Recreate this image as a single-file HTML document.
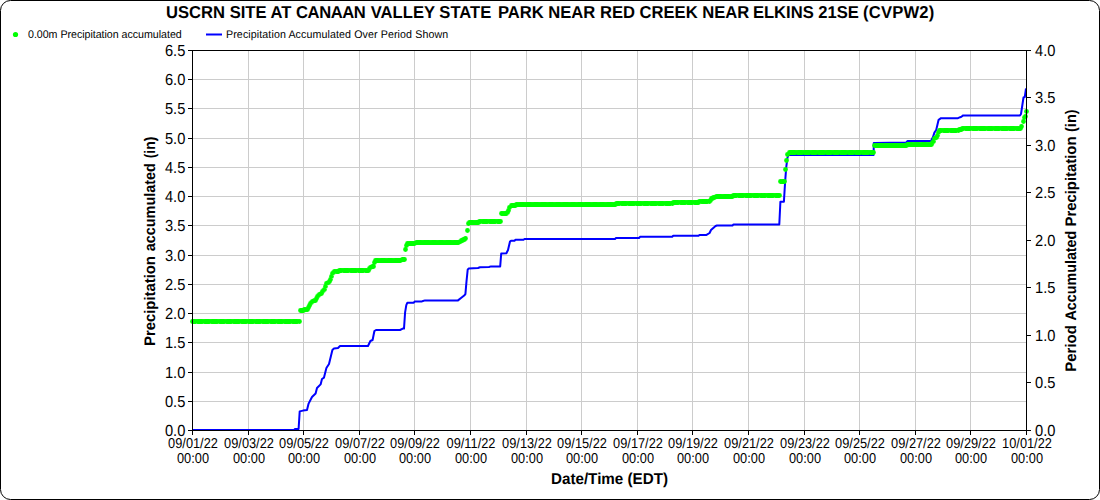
<!DOCTYPE html>
<html><head><meta charset="utf-8"><title>USCRN SITE AT CANAAN VALLEY STATE PARK</title>
<style>
html,body{margin:0;padding:0;background:#fff;}
body{width:1100px;height:500px;overflow:hidden;}
svg{display:block;text-rendering:geometricPrecision;font-family:"Liberation Sans",sans-serif;fill:#000;}
</style></head><body>
<svg width="1100" height="500" viewBox="0 0 1100 500">
<rect x="0" y="0" width="1100" height="500" fill="#fff"/>
<rect x="0.5" y="0.5" width="1099" height="499" rx="10" ry="10" fill="#fff" stroke="#000" stroke-width="1"/>
<path d="M248.5 51V430M303.5 51V430M359.5 51V430M414.5 51V430M470.5 51V430M526.5 51V430M581.5 51V430M637.5 51V430M692.5 51V430M748.5 51V430M804.5 51V430M859.5 51V430M915.5 51V430M970.5 51V430M193 401.5H1026M193 372.5H1026M193 342.5H1026M193 313.5H1026M193 284.5H1026M193 255.5H1026M193 225.5H1026M193 196.5H1026M193 167.5H1026M193 138.5H1026M193 108.5H1026M193 79.5H1026" stroke="#cccccc" stroke-width="1" fill="none" shape-rendering="crispEdges"/>
<polyline points="192,430 294,430 295,429 298.6,429 299.7,411.4 303,410.6 307,410 308.6,403.6 312,397 315.6,393.6 317,388 320.6,384.4 322,379 324,377.6 326.4,368 329,364 332.4,350 334,348.4 338,348 340,346 368,346 370.4,341 372.6,340 374.4,331 376,330 400,330 402.8,328.6 404,328.6 405.1,312.3 406.3,305.1 407.4,302.7 413.8,302.7 414.8,301.4 422,301.4 423,301 425,300.4 458,300.4 461,298 464.2,295.5 465.4,294.1 466.5,281.4 467.7,269.7 468.8,268.4 478,268 480,267.2 489,267 491,266.4 500.2,266.4 501.2,253.6 506.4,253.2 508,250 510,241.6 511,240.8 514.5,240.8 515.5,239.8 523.5,239.8 524.5,239 615,239 616,238 639,238 640,236.8 672.2,236.8 673.2,235.8 698.5,235.8 699.5,234.9 706.5,234.9 709.6,233 711,230 715.6,226 717,225.5 732.5,225.5 733.5,224.4 779.3,224.4 780.4,201.8 783.9,201.8 785.1,182.1 786.2,167.6 787.4,157.9 788.5,155 873.6,155 873.8,143 906,142.6 907.6,141 931,141 933,137 934.4,132.6 936.2,130 938.6,119.8 941,118.2 958,118.2 960.2,117.2 961.4,116.8 963.2,115.4 1020,115.4 1021,114 1023.5,97.5 1024.8,97 1026,88.5" fill="none" stroke="#0000ff" stroke-width="2" stroke-linejoin="round"/>
<path d="M192.5 321.5h0M193.5 321.5h0M194.5 321.5h0M195.5 321.5h0M197.5 321.5h0M198.5 321.5h0M199.5 321.5h0M200.5 321.5h0M201.5 321.5h0M202.5 321.5h0M204.5 321.5h0M205.5 321.5h0M206.5 321.5h0M207.5 321.5h0M208.5 321.5h0M209.5 321.5h0M211.5 321.5h0M212.5 321.5h0M213.5 321.5h0M214.5 321.5h0M215.5 321.5h0M216.5 321.5h0M217.5 321.5h0M219.5 321.5h0M220.5 321.5h0M221.5 321.5h0M222.5 321.5h0M223.5 321.5h0M224.5 321.5h0M226.5 321.5h0M227.5 321.5h0M228.5 321.5h0M229.5 321.5h0M230.5 321.5h0M231.5 321.5h0M233.5 321.5h0M234.5 321.5h0M235.5 321.5h0M236.5 321.5h0M237.5 321.5h0M238.5 321.5h0M239.5 321.5h0M241.5 321.5h0M242.5 321.5h0M243.5 321.5h0M244.5 321.5h0M245.5 321.5h0M246.5 321.5h0M248.5 321.5h0M249.5 321.5h0M250.5 321.5h0M251.5 321.5h0M252.5 321.5h0M253.5 321.5h0M255.5 321.5h0M256.5 321.5h0M257.5 321.5h0M258.5 321.5h0M259.5 321.5h0M260.5 321.5h0M262.5 321.5h0M263.5 321.5h0M264.5 321.5h0M265.5 321.5h0M266.5 321.5h0M267.5 321.5h0M268.5 321.5h0M270.5 321.5h0M271.5 321.5h0M272.5 321.5h0M273.5 321.5h0M274.5 321.5h0M275.5 321.5h0M277.5 321.5h0M278.5 321.5h0M279.5 321.5h0M280.5 321.5h0M281.5 321.5h0M282.5 321.5h0M284.5 321.5h0M285.5 321.5h0M286.5 321.5h0M287.5 321.5h0M288.5 321.5h0M289.5 321.5h0M290.5 321.5h0M292.5 321.5h0M293.5 321.5h0M294.5 321.5h0M295.5 321.5h0M296.5 321.5h0M297.5 321.5h0M299.5 321.5h0M300.5 310.5h0M301.5 310.5h0M302.5 310.5h0M303.5 310.5h0M304.5 309.5h0M306.5 309.5h0M307.5 309.5h0M308.5 307.5h0M309.5 305.5h0M310.5 303.5h0M311.5 302.5h0M312.5 301.5h0M314.5 300.5h0M315.5 300.5h0M316.5 298.5h0M317.5 296.5h0M318.5 295.5h0M319.5 294.5h0M321.5 293.5h0M322.5 291.5h0M323.5 290.5h0M324.5 289.5h0M325.5 286.5h0M326.5 283.5h0M328.5 282.5h0M329.5 281.5h0M330.5 279.5h0M331.5 276.5h0M332.5 273.5h0M333.5 272.5h0M334.5 271.5h0M336.5 271.5h0M337.5 271.5h0M338.5 271.5h0M339.5 270.5h0M340.5 270.5h0M341.5 270.5h0M343.5 270.5h0M344.5 270.5h0M345.5 270.5h0M346.5 270.5h0M347.5 270.5h0M348.5 270.5h0M350.5 270.5h0M351.5 270.5h0M352.5 270.5h0M353.5 270.5h0M354.5 270.5h0M355.5 270.5h0M356.5 270.5h0M358.5 270.5h0M359.5 270.5h0M360.5 270.5h0M361.5 270.5h0M362.5 270.5h0M363.5 270.5h0M365.5 270.5h0M366.5 270.5h0M367.5 270.5h0M368.5 270.5h0M369.5 268.5h0M370.5 267.5h0M372.5 266.5h0M373.5 266.5h0M374.5 262.5h0M375.5 260.5h0M376.5 260.5h0M377.5 260.5h0M378.5 260.5h0M380.5 260.5h0M381.5 260.5h0M382.5 260.5h0M383.5 260.5h0M384.5 260.5h0M385.5 260.5h0M387.5 260.5h0M388.5 260.5h0M389.5 260.5h0M390.5 260.5h0M391.5 260.5h0M392.5 260.5h0M394.5 260.5h0M395.5 260.5h0M396.5 260.5h0M397.5 260.5h0M398.5 260.5h0M399.5 260.5h0M400.5 260.5h0M402.5 259.5h0M403.5 259.5h0M404.5 259.5h0M405.5 249.5h0M406.5 245.5h0M407.5 243.5h0M409.5 243.5h0M410.5 243.5h0M411.5 243.5h0M412.5 243.5h0M413.5 243.5h0M414.5 243.5h0M416.5 242.5h0M417.5 242.5h0M418.5 242.5h0M419.5 242.5h0M420.5 242.5h0M421.5 242.5h0M423.5 242.5h0M424.5 242.5h0M425.5 242.5h0M426.5 242.5h0M427.5 242.5h0M428.5 242.5h0M429.5 242.5h0M431.5 242.5h0M432.5 242.5h0M433.5 242.5h0M434.5 242.5h0M435.5 242.5h0M436.5 242.5h0M438.5 242.5h0M439.5 242.5h0M440.5 242.5h0M441.5 242.5h0M442.5 242.5h0M443.5 242.5h0M445.5 242.5h0M446.5 242.5h0M447.5 242.5h0M448.5 242.5h0M449.5 242.5h0M450.5 242.5h0M451.5 242.5h0M453.5 242.5h0M454.5 242.5h0M455.5 242.5h0M456.5 242.5h0M457.5 242.5h0M458.5 242.5h0M460.5 241.5h0M461.5 240.5h0M462.5 240.5h0M463.5 239.5h0M464.5 239.5h0M465.5 238.5h0M467.5 230.5h0M468.5 223.5h0M469.5 222.5h0M470.5 222.5h0M471.5 222.5h0M472.5 222.5h0M473.5 222.5h0M475.5 222.5h0M476.5 222.5h0M477.5 222.5h0M478.5 222.5h0M479.5 221.5h0M480.5 221.5h0M482.5 221.5h0M483.5 221.5h0M484.5 221.5h0M485.5 221.5h0M486.5 221.5h0M487.5 221.5h0M489.5 221.5h0M490.5 221.5h0M491.5 221.5h0M492.5 221.5h0M493.5 221.5h0M494.5 221.5h0M495.5 221.5h0M497.5 221.5h0M498.5 221.5h0M499.5 221.5h0M500.5 221.5h0M501.5 213.5h0M502.5 213.5h0M504.5 213.5h0M505.5 213.5h0M506.5 213.5h0M507.5 212.5h0M508.5 210.5h0M509.5 207.5h0M511.5 205.5h0M512.5 205.5h0M513.5 205.5h0M514.5 205.5h0M515.5 205.5h0M516.5 204.5h0M517.5 204.5h0M519.5 204.5h0M520.5 204.5h0M521.5 204.5h0M522.5 204.5h0M523.5 204.5h0M524.5 204.5h0M526.5 204.5h0M527.5 204.5h0M528.5 204.5h0M529.5 204.5h0M530.5 204.5h0M531.5 204.5h0M533.5 204.5h0M534.5 204.5h0M535.5 204.5h0M536.5 204.5h0M537.5 204.5h0M538.5 204.5h0M540.5 204.5h0M541.5 204.5h0M542.5 204.5h0M543.5 204.5h0M544.5 204.5h0M545.5 204.5h0M546.5 204.5h0M548.5 204.5h0M549.5 204.5h0M550.5 204.5h0M551.5 204.5h0M552.5 204.5h0M553.5 204.5h0M555.5 204.5h0M556.5 204.5h0M557.5 204.5h0M558.5 204.5h0M559.5 204.5h0M560.5 204.5h0M562.5 204.5h0M563.5 204.5h0M564.5 204.5h0M565.5 204.5h0M566.5 204.5h0M567.5 204.5h0M568.5 204.5h0M570.5 204.5h0M571.5 204.5h0M572.5 204.5h0M573.5 204.5h0M574.5 204.5h0M575.5 204.5h0M577.5 204.5h0M578.5 204.5h0M579.5 204.5h0M580.5 204.5h0M581.5 204.5h0M582.5 204.5h0M584.5 204.5h0M585.5 204.5h0M586.5 204.5h0M587.5 204.5h0M588.5 204.5h0M589.5 204.5h0M590.5 204.5h0M592.5 204.5h0M593.5 204.5h0M594.5 204.5h0M595.5 204.5h0M596.5 204.5h0M597.5 204.5h0M599.5 204.5h0M600.5 204.5h0M601.5 204.5h0M602.5 204.5h0M603.5 204.5h0M604.5 204.5h0M606.5 204.5h0M607.5 204.5h0M608.5 204.5h0M609.5 204.5h0M610.5 204.5h0M611.5 204.5h0M612.5 204.5h0M614.5 204.5h0M615.5 204.5h0M616.5 203.5h0M617.5 203.5h0M618.5 203.5h0M619.5 203.5h0M621.5 203.5h0M622.5 203.5h0M623.5 203.5h0M624.5 203.5h0M625.5 203.5h0M626.5 203.5h0M628.5 203.5h0M629.5 203.5h0M630.5 203.5h0M631.5 203.5h0M632.5 203.5h0M633.5 203.5h0M634.5 203.5h0M636.5 203.5h0M637.5 203.5h0M638.5 203.5h0M639.5 203.5h0M640.5 203.5h0M641.5 203.5h0M643.5 203.5h0M644.5 203.5h0M645.5 203.5h0M646.5 203.5h0M647.5 203.5h0M648.5 203.5h0M650.5 203.5h0M651.5 203.5h0M652.5 203.5h0M653.5 203.5h0M654.5 203.5h0M655.5 203.5h0M656.5 203.5h0M658.5 203.5h0M659.5 203.5h0M660.5 203.5h0M661.5 203.5h0M662.5 203.5h0M663.5 203.5h0M665.5 203.5h0M666.5 203.5h0M667.5 203.5h0M668.5 203.5h0M669.5 203.5h0M670.5 203.5h0M672.5 203.5h0M673.5 202.5h0M674.5 202.5h0M675.5 202.5h0M676.5 202.5h0M677.5 202.5h0M678.5 202.5h0M680.5 202.5h0M681.5 202.5h0M682.5 202.5h0M683.5 202.5h0M684.5 202.5h0M685.5 202.5h0M687.5 202.5h0M688.5 202.5h0M689.5 202.5h0M690.5 202.5h0M691.5 202.5h0M692.5 202.5h0M694.5 202.5h0M695.5 202.5h0M696.5 202.5h0M697.5 202.5h0M698.5 202.5h0M699.5 201.5h0M701.5 201.5h0M702.5 201.5h0M703.5 201.5h0M704.5 201.5h0M705.5 201.5h0M706.5 201.5h0M707.5 201.5h0M709.5 201.5h0M710.5 200.5h0M711.5 198.5h0M712.5 198.5h0M713.5 197.5h0M714.5 197.5h0M716.5 196.5h0M717.5 196.5h0M718.5 196.5h0M719.5 196.5h0M720.5 196.5h0M721.5 196.5h0M723.5 196.5h0M724.5 196.5h0M725.5 196.5h0M726.5 196.5h0M727.5 196.5h0M728.5 196.5h0M729.5 196.5h0M731.5 196.5h0M732.5 196.5h0M733.5 195.5h0M734.5 195.5h0M735.5 195.5h0M736.5 195.5h0M738.5 195.5h0M739.5 195.5h0M740.5 195.5h0M741.5 195.5h0M742.5 195.5h0M743.5 195.5h0M745.5 195.5h0M746.5 195.5h0M747.5 195.5h0M748.5 195.5h0M749.5 195.5h0M750.5 195.5h0M751.5 195.5h0M753.5 195.5h0M754.5 195.5h0M755.5 195.5h0M756.5 195.5h0M757.5 195.5h0M758.5 195.5h0M760.5 195.5h0M761.5 195.5h0M762.5 195.5h0M763.5 195.5h0M764.5 195.5h0M765.5 195.5h0M767.5 195.5h0M768.5 195.5h0M769.5 195.5h0M770.5 195.5h0M771.5 195.5h0M772.5 195.5h0M773.5 195.5h0M775.5 195.5h0M776.5 195.5h0M777.5 195.5h0M778.5 195.5h0M779.5 195.5h0M780.5 181.5h0M782.5 181.5h0M783.5 181.5h0M784.5 181.5h0M785.5 169.5h0M786.5 160.5h0M787.5 154.5h0M789.5 152.5h0M790.5 152.5h0M791.5 152.5h0M792.5 152.5h0M793.5 152.5h0M794.5 152.5h0M795.5 152.5h0M797.5 152.5h0M798.5 152.5h0M799.5 152.5h0M800.5 152.5h0M801.5 152.5h0M802.5 152.5h0M804.5 152.5h0M805.5 152.5h0M806.5 152.5h0M807.5 152.5h0M808.5 152.5h0M809.5 152.5h0M811.5 152.5h0M812.5 152.5h0M813.5 152.5h0M814.5 152.5h0M815.5 152.5h0M816.5 152.5h0M818.5 152.5h0M819.5 152.5h0M820.5 152.5h0M821.5 152.5h0M822.5 152.5h0M823.5 152.5h0M824.5 152.5h0M826.5 152.5h0M827.5 152.5h0M828.5 152.5h0M829.5 152.5h0M830.5 152.5h0M831.5 152.5h0M833.5 152.5h0M834.5 152.5h0M835.5 152.5h0M836.5 152.5h0M837.5 152.5h0M838.5 152.5h0M840.5 152.5h0M841.5 152.5h0M842.5 152.5h0M843.5 152.5h0M844.5 152.5h0M845.5 152.5h0M846.5 152.5h0M848.5 152.5h0M849.5 152.5h0M850.5 152.5h0M851.5 152.5h0M852.5 152.5h0M853.5 152.5h0M855.5 152.5h0M856.5 152.5h0M857.5 152.5h0M858.5 152.5h0M859.5 152.5h0M860.5 152.5h0M862.5 152.5h0M863.5 152.5h0M864.5 152.5h0M865.5 152.5h0M866.5 152.5h0M867.5 152.5h0M868.5 152.5h0M870.5 152.5h0M871.5 152.5h0M872.5 152.5h0M873.5 152.5h0M874.5 145.5h0M875.5 145.5h0M877.5 145.5h0M878.5 145.5h0M879.5 145.5h0M880.5 145.5h0M881.5 145.5h0M882.5 145.5h0M884.5 145.5h0M885.5 145.5h0M886.5 145.5h0M887.5 145.5h0M888.5 145.5h0M889.5 145.5h0M890.5 145.5h0M892.5 145.5h0M893.5 145.5h0M894.5 145.5h0M895.5 145.5h0M896.5 145.5h0M897.5 145.5h0M899.5 145.5h0M900.5 145.5h0M901.5 145.5h0M902.5 145.5h0M903.5 145.5h0M904.5 145.5h0M906.5 145.5h0M907.5 144.5h0M908.5 144.5h0M909.5 144.5h0M910.5 144.5h0M911.5 144.5h0M912.5 144.5h0M914.5 144.5h0M915.5 144.5h0M916.5 144.5h0M917.5 144.5h0M918.5 144.5h0M919.5 144.5h0M921.5 144.5h0M922.5 144.5h0M923.5 144.5h0M924.5 144.5h0M925.5 144.5h0M926.5 144.5h0M928.5 144.5h0M929.5 144.5h0M930.5 144.5h0M931.5 144.5h0M932.5 142.5h0M933.5 141.5h0M934.5 138.5h0M936.5 137.5h0M937.5 135.5h0M938.5 132.5h0M939.5 130.5h0M940.5 130.5h0M941.5 130.5h0M943.5 130.5h0M944.5 130.5h0M945.5 130.5h0M946.5 130.5h0M947.5 130.5h0M948.5 130.5h0M950.5 130.5h0M951.5 130.5h0M952.5 130.5h0M953.5 130.5h0M954.5 130.5h0M955.5 130.5h0M956.5 130.5h0M958.5 130.5h0M959.5 129.5h0M960.5 129.5h0M961.5 129.5h0M962.5 128.5h0M963.5 128.5h0M965.5 128.5h0M966.5 128.5h0M967.5 128.5h0M968.5 128.5h0M969.5 128.5h0M970.5 128.5h0M972.5 128.5h0M973.5 128.5h0M974.5 128.5h0M975.5 128.5h0M976.5 128.5h0M977.5 128.5h0M979.5 128.5h0M980.5 128.5h0M981.5 128.5h0M982.5 128.5h0M983.5 128.5h0M984.5 128.5h0M985.5 128.5h0M987.5 128.5h0M988.5 128.5h0M989.5 128.5h0M990.5 128.5h0M991.5 128.5h0M992.5 128.5h0M994.5 128.5h0M995.5 128.5h0M996.5 128.5h0M997.5 128.5h0M998.5 128.5h0M999.5 128.5h0M1001.5 128.5h0M1002.5 128.5h0M1003.5 128.5h0M1004.5 128.5h0M1005.5 128.5h0M1006.5 128.5h0M1007.5 128.5h0M1009.5 128.5h0M1010.5 128.5h0M1011.5 128.5h0M1012.5 128.5h0M1013.5 128.5h0M1014.5 128.5h0M1016.5 128.5h0M1017.5 128.5h0M1018.5 128.5h0M1019.5 128.5h0M1020.5 128.5h0M1021.5 126.5h0M1023.5 121.5h0M1024.5 117.5h0M1025.5 116.5h0M1026.5 111.5h0" stroke="#00ff00" stroke-width="4.8" stroke-linecap="round" fill="none"/>
<path d="M192.5 50V431M1026.5 50V431M192 50.5H1027M192 430.5H1027M192.5 430V435M248.5 430V435M303.5 430V435M359.5 430V435M414.5 430V435M470.5 430V435M526.5 430V435M581.5 430V435M637.5 430V435M692.5 430V435M748.5 430V435M804.5 430V435M859.5 430V435M915.5 430V435M970.5 430V435M1026.5 430V435M188 430.5H192M188 401.5H192M188 372.5H192M188 342.5H192M188 313.5H192M188 284.5H192M188 255.5H192M188 225.5H192M188 196.5H192M188 167.5H192M188 138.5H192M188 108.5H192M188 79.5H192M188 50.5H192M1026 430.5H1031M1026 382.5H1031M1026 335.5H1031M1026 287.5H1031M1026 240.5H1031M1026 192.5H1031M1026 145.5H1031M1026 97.5H1031M1026 50.5H1031" stroke="#000" stroke-width="1" fill="none" shape-rendering="crispEdges"/>
<circle cx="15.5" cy="34.5" r="2.6" fill="#00ff00"/>
<path d="M206 34.5H222" stroke="#0000ff" stroke-width="2" fill="none"/>
<text transform="translate(550.3 18) scale(1 1.0407)" font-size="16.6" text-anchor="middle" font-weight="bold">USCRN SITE AT <tspan letter-spacing="-0.45">CANAAN</tspan> <tspan dx="0.9">VALLEY</tspan> STATE <tspan dx="2">PARK</tspan> NEAR RED CREEK NEAR <tspan dx="-1">ELKINS</tspan> 21SE <tspan dx="-0.5" letter-spacing="0.2">(CVPW2)</tspan></text><text transform="translate(28 38) scale(1 1.0407)" font-size="10.67" text-anchor="start" letter-spacing="-0.03">0.00m Precipitation accumulated</text><text transform="translate(226 38) scale(1 1.0407)" font-size="10.67" text-anchor="start" letter-spacing="0.1">Precipitation Accumulated Over Period Shown</text><text transform="translate(185.3 436) scale(1 1.09)" font-size="14.67" text-anchor="end">0.0</text><text transform="translate(185.3 407) scale(1 1.09)" font-size="14.67" text-anchor="end">0.5</text><text transform="translate(185.3 378) scale(1 1.09)" font-size="14.67" text-anchor="end">1.0</text><text transform="translate(185.3 348) scale(1 1.09)" font-size="14.67" text-anchor="end">1.5</text><text transform="translate(185.3 319) scale(1 1.09)" font-size="14.67" text-anchor="end">2.0</text><text transform="translate(185.3 290) scale(1 1.09)" font-size="14.67" text-anchor="end">2.5</text><text transform="translate(185.3 261) scale(1 1.09)" font-size="14.67" text-anchor="end">3.0</text><text transform="translate(185.3 231) scale(1 1.09)" font-size="14.67" text-anchor="end">3.5</text><text transform="translate(185.3 202) scale(1 1.09)" font-size="14.67" text-anchor="end">4.0</text><text transform="translate(185.3 173) scale(1 1.09)" font-size="14.67" text-anchor="end">4.5</text><text transform="translate(185.3 144) scale(1 1.09)" font-size="14.67" text-anchor="end">5.0</text><text transform="translate(185.3 114) scale(1 1.09)" font-size="14.67" text-anchor="end">5.5</text><text transform="translate(185.3 85) scale(1 1.09)" font-size="14.67" text-anchor="end">6.0</text><text transform="translate(185.3 56) scale(1 1.09)" font-size="14.67" text-anchor="end">6.5</text><text transform="translate(1035 436) scale(1 1.09)" font-size="14.67" text-anchor="start">0.0</text><text transform="translate(1035 388) scale(1 1.09)" font-size="14.67" text-anchor="start">0.5</text><text transform="translate(1035 341) scale(1 1.09)" font-size="14.67" text-anchor="start">1.0</text><text transform="translate(1035 293) scale(1 1.09)" font-size="14.67" text-anchor="start">1.5</text><text transform="translate(1035 246) scale(1 1.09)" font-size="14.67" text-anchor="start">2.0</text><text transform="translate(1035 198) scale(1 1.09)" font-size="14.67" text-anchor="start">2.5</text><text transform="translate(1035 151) scale(1 1.09)" font-size="14.67" text-anchor="start">3.0</text><text transform="translate(1035 103) scale(1 1.09)" font-size="14.67" text-anchor="start">3.5</text><text transform="translate(1035 56) scale(1 1.09)" font-size="14.67" text-anchor="start">4.0</text><text transform="translate(193.0 447.7) scale(1 1.12)" font-size="12.8" text-anchor="middle">09/01/22</text><text transform="translate(193.0 462.7) scale(1 1.12)" font-size="12.8" text-anchor="middle">00:00</text><text transform="translate(249.0 447.7) scale(1 1.12)" font-size="12.8" text-anchor="middle">09/03/22</text><text transform="translate(249.0 462.7) scale(1 1.12)" font-size="12.8" text-anchor="middle">00:00</text><text transform="translate(304.0 447.7) scale(1 1.12)" font-size="12.8" text-anchor="middle">09/05/22</text><text transform="translate(304.0 462.7) scale(1 1.12)" font-size="12.8" text-anchor="middle">00:00</text><text transform="translate(360.0 447.7) scale(1 1.12)" font-size="12.8" text-anchor="middle">09/07/22</text><text transform="translate(360.0 462.7) scale(1 1.12)" font-size="12.8" text-anchor="middle">00:00</text><text transform="translate(415.0 447.7) scale(1 1.12)" font-size="12.8" text-anchor="middle">09/09/22</text><text transform="translate(415.0 462.7) scale(1 1.12)" font-size="12.8" text-anchor="middle">00:00</text><text transform="translate(471.0 447.7) scale(1 1.12)" font-size="12.8" text-anchor="middle">09/11/22</text><text transform="translate(471.0 462.7) scale(1 1.12)" font-size="12.8" text-anchor="middle">00:00</text><text transform="translate(527.0 447.7) scale(1 1.12)" font-size="12.8" text-anchor="middle">09/13/22</text><text transform="translate(527.0 462.7) scale(1 1.12)" font-size="12.8" text-anchor="middle">00:00</text><text transform="translate(582.0 447.7) scale(1 1.12)" font-size="12.8" text-anchor="middle">09/15/22</text><text transform="translate(582.0 462.7) scale(1 1.12)" font-size="12.8" text-anchor="middle">00:00</text><text transform="translate(638.0 447.7) scale(1 1.12)" font-size="12.8" text-anchor="middle">09/17/22</text><text transform="translate(638.0 462.7) scale(1 1.12)" font-size="12.8" text-anchor="middle">00:00</text><text transform="translate(693.0 447.7) scale(1 1.12)" font-size="12.8" text-anchor="middle">09/19/22</text><text transform="translate(693.0 462.7) scale(1 1.12)" font-size="12.8" text-anchor="middle">00:00</text><text transform="translate(749.0 447.7) scale(1 1.12)" font-size="12.8" text-anchor="middle">09/21/22</text><text transform="translate(749.0 462.7) scale(1 1.12)" font-size="12.8" text-anchor="middle">00:00</text><text transform="translate(805.0 447.7) scale(1 1.12)" font-size="12.8" text-anchor="middle">09/23/22</text><text transform="translate(805.0 462.7) scale(1 1.12)" font-size="12.8" text-anchor="middle">00:00</text><text transform="translate(860.0 447.7) scale(1 1.12)" font-size="12.8" text-anchor="middle">09/25/22</text><text transform="translate(860.0 462.7) scale(1 1.12)" font-size="12.8" text-anchor="middle">00:00</text><text transform="translate(916.0 447.7) scale(1 1.12)" font-size="12.8" text-anchor="middle">09/27/22</text><text transform="translate(916.0 462.7) scale(1 1.12)" font-size="12.8" text-anchor="middle">00:00</text><text transform="translate(971.0 447.7) scale(1 1.12)" font-size="12.8" text-anchor="middle">09/29/22</text><text transform="translate(971.0 462.7) scale(1 1.12)" font-size="12.8" text-anchor="middle">00:00</text><text transform="translate(1027.0 447.7) scale(1 1.12)" font-size="12.8" text-anchor="middle">10/01/22</text><text transform="translate(1027.0 462.7) scale(1 1.12)" font-size="12.8" text-anchor="middle">00:00</text><text transform="translate(609.5 484) scale(1 1.0407)" font-size="15.2" text-anchor="middle" font-weight="bold">Date/Time (EDT)</text><text transform="translate(155 346.0) rotate(-90) scale(1.0128 1.0407)" font-size="14.67" font-weight="bold">Precipitation</text><text transform="translate(155 251.3) rotate(-90) scale(0.9848 1.0407)" font-size="14.67" font-weight="bold">accumulated</text><text transform="translate(155 158.31) rotate(-90) scale(0.9486 1.0407)" font-size="14.67" font-weight="bold">(in)</text><text transform="translate(1076 371.7) rotate(-90) scale(1.0211 1.0407)" font-size="14.67" font-weight="bold">Period</text><text transform="translate(1076 320.46) rotate(-90) scale(0.9749 1.0407)" font-size="14.67" font-weight="bold">Accumulated</text><text transform="translate(1076 226.5) rotate(-90) scale(1.0139 1.0407)" font-size="14.67" font-weight="bold">Precipitation</text><text transform="translate(1076 131.94) rotate(-90) scale(0.9858 1.0407)" font-size="14.67" font-weight="bold">(in)</text>
</svg>
</body></html>
